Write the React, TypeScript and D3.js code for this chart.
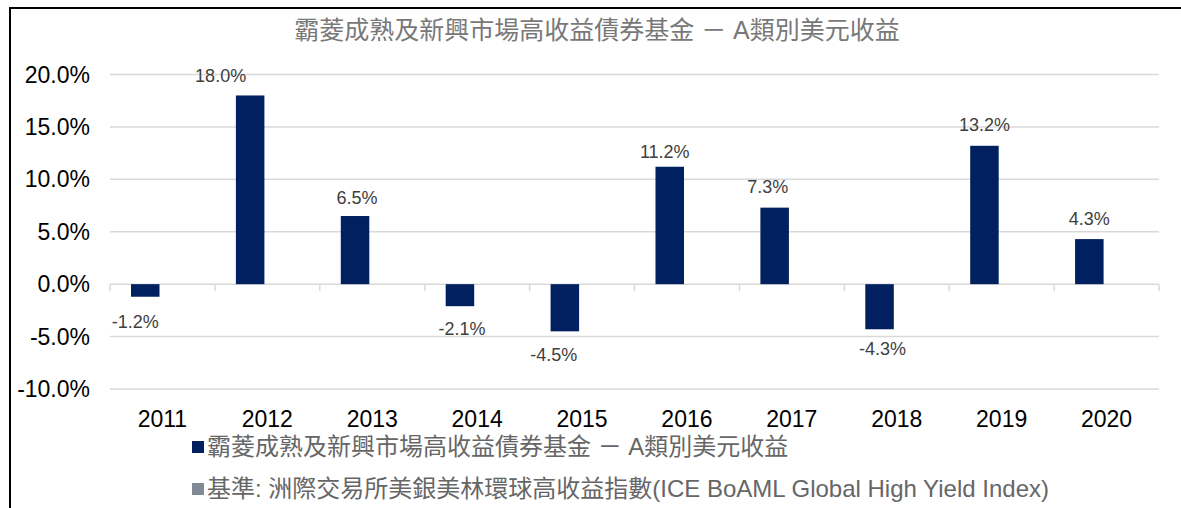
import React from 'react';
import * as d3 from 'd3';

const years = ['2011', '2012', '2013', '2014', '2015', '2016', '2017', '2018', '2019', '2020'];
const fundReturns = [-1.2, 18.0, 6.5, -2.1, -4.5, 11.2, 7.3, -4.3, 13.2, 4.3];
const seriesKeys = ['fund', 'benchmark'];
const seriesNames = [
  '霸菱成熟及新興市場高收益債券基金 － A類別美元收益',
  '基準: 洲際交易所美銀美林環球高收益指數(ICE BoAML Global High Yield Index)',
];
const seriesColors = ['#002060', '#7f8a96'];
const yTicks = [-10, -5, 0, 5, 10, 15, 20];
const chartTitle = '霸菱成熟及新興市場高收益債券基金 － A類別美元收益';

// small label nudges (as hand-placed in the original)
const labelDx = [-10, -29.5, 2, 2, -11, -5, -7, 3, 0, 0];
const labelDy = [1, -1, 0, -1, 0, 3, -3, -4, -3, -2];

const W = 1181;
const H = 508;
const FONT = '"Liberation Sans", Arial, "Noto Sans CJK TC", sans-serif';

const pct = (v: number) => v.toFixed(1) + '%';

export default function App() {
  const x = d3.scaleBand<string>().domain(years).range([110, 1159]).padding(0);
  const inner = d3
    .scaleBand<string>()
    .domain(seriesKeys)
    .range([0, x.bandwidth()])
    .paddingInner(0.1715)
    .paddingOuter(0.61);
  const y = d3.scaleLinear().domain([-10, 20]).range([389, 74.5]);
  const y0 = y(0);

  const boundaries = years.map((yr) => x(yr) as number).concat([x.range()[1]]);

  return (
    <svg
      width={W}
      height={H}
      style={{ position: 'absolute', left: 0, top: 0, background: '#fff' }}
      fontFamily={FONT}
    >
      <rect x={0} y={0} width={W} height={H} fill="#fff" />
      {/* frame */}
      <path d={`M10,${H} V8 H${W}`} fill="none" stroke="#000" strokeWidth={2} />

      {/* title */}
      <text x={597} y={39} textAnchor="middle" fontSize={25} fill="#787878">
        {chartTitle}
      </text>

      {/* gridlines */}
      {yTicks.map((t) => (
        <line
          key={t}
          x1={x.range()[0]}
          x2={x.range()[1]}
          y1={y(t)}
          y2={y(t)}
          stroke="#d9d9d9"
          strokeWidth={1.5}
        />
      ))}
      {/* category ticks on zero line */}
      {boundaries.map((bx, i) => (
        <line key={i} x1={bx} x2={bx} y1={y0} y2={y0 + 7} stroke="#d9d9d9" strokeWidth={1.5} />
      ))}

      {/* y tick labels */}
      {yTicks.map((t) => (
        <text key={t} x={90} y={y(t) + 8} textAnchor="end" fontSize={23} fill="#000">
          {pct(t)}
        </text>
      ))}

      {/* bars */}
      {years.map((yr, i) => {
        const v = fundReturns[i];
        const bx = (x(yr) as number) + (inner('fund') as number);
        return (
          <rect
            key={yr}
            x={bx}
            y={Math.min(y(v), y0)}
            width={inner.bandwidth()}
            height={Math.abs(y(v) - y0)}
            fill={seriesColors[0]}
          />
        );
      })}

      {/* data labels */}
      {years.map((yr, i) => {
        const v = fundReturns[i];
        const cx = (x(yr) as number) + (inner('fund') as number) + inner.bandwidth() / 2 + labelDx[i];
        const by = v >= 0 ? y(v) - 12 : y(v) + 30;
        return (
          <text key={yr} x={cx} y={by + labelDy[i]} textAnchor="middle" fontSize={18} fill="#404040">
            {pct(v)}
          </text>
        );
      })}

      {/* x labels */}
      {years.map((yr) => (
        <text
          key={yr}
          x={(x(yr) as number) + x.bandwidth() / 2}
          y={426.5}
          textAnchor="middle"
          fontSize={23}
          fill="#000"
        >
          {yr}
        </text>
      ))}

      {/* legend */}
      {seriesNames.map((name, i) => {
        const cy = 447 + i * 42;
        return (
          <g key={i}>
            <rect x={192} y={cy - 6} width={12} height={12} fill={seriesColors[i]} />
            <text x={207} y={cy + 8} fontSize={24} fill="#666">
              {name}
            </text>
          </g>
        );
      })}
    </svg>
  );
}
